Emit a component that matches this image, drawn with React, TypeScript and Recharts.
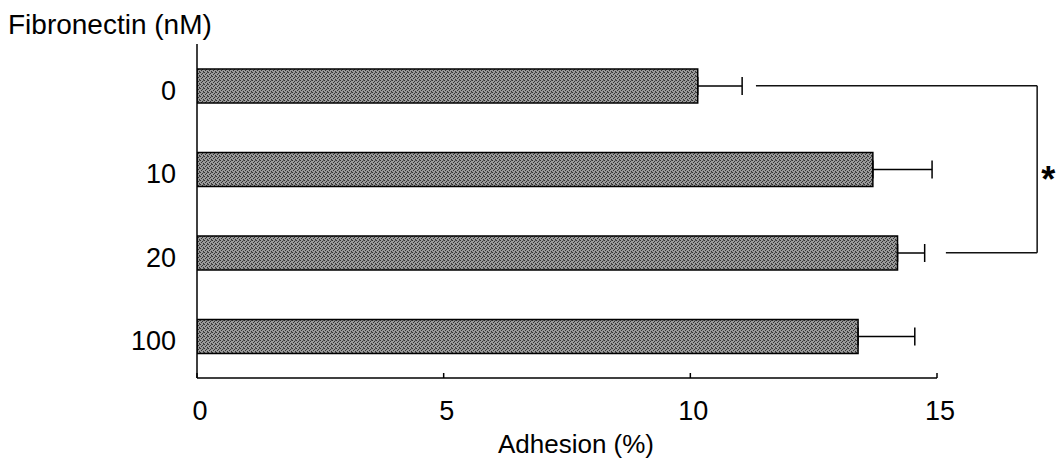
import React from 'react';
import { BarChart, Bar, XAxis, YAxis, ErrorBar, ReferenceLine, Label } from 'recharts';

const doses = ['0', '10', '20', '100'];
const adhesion = [10.15, 13.7, 14.2, 13.4];
const sem = [0.9, 1.2, 0.55, 1.15];
const xTicks = [0, 5, 10, 15];

// significance bracket between 0 nM and 20 nM
const bracketRows = ['0', '20'];
const bracketArmStart = [11.33, 15.18];
const bracketEdge = 17.03;

const data = doses.map((d, i) => ({ dose: d, value: adhesion[i], err: [0, sem[i]] }));

const FONT = '"Liberation Sans", Arial, Helvetica, sans-serif';

const XTick = (props: any) => {
  const { x, y, payload } = props;
  const axisY = y - 23;
  return (
    <g>
      <line x1={x} x2={x} y1={axisY} y2={axisY - 5} stroke="#000" strokeWidth={1.5} />
      <text x={x + 3} y={y} dy="0.71em" textAnchor="middle" fontSize={27} fontFamily={FONT} fill="#000">
        {payload.value}
      </text>
    </g>
  );
};

const YTick = (props: any) => {
  const { x, y, payload } = props;
  return (
    <text x={x} y={y} dy={14} textAnchor="end" fontSize={27} fontFamily={FONT} fill="#000">
      {payload.value}
    </text>
  );
};

const App: React.FC = () => {
  return (
    <div style={{ position: 'absolute', top: 0, left: 0, width: 1064, height: 461, background: '#fff', fontFamily: FONT }}>
      <div style={{ position: 'absolute', left: 8, top: 9, fontSize: 28, color: '#000', whiteSpace: 'nowrap' }}>
        Fibronectin (nM)
      </div>
      <BarChart
        width={1064}
        height={461}
        data={data}
        layout="vertical"
        margin={{ top: 44, right: 127, bottom: 23, left: 0 }}
      >
        <defs>
          <pattern id="stipple" width="4" height="4" patternUnits="userSpaceOnUse">
            <rect width="4" height="4" fill="#9a9a9a" />
            <rect x="0" y="0" width="1" height="1" fill="#333" />
            <rect x="2" y="1" width="1" height="1" fill="#333" />
            <rect x="1" y="2" width="1" height="1" fill="#333" />
            <rect x="3" y="3" width="1" height="1" fill="#333" />
            <rect x="3" y="0" width="1" height="1" fill="#555" />
          </pattern>
        </defs>
        <XAxis
          type="number"
          domain={[0, 15]}
          ticks={xTicks}
          height={60}
          tickSize={0}
          tickMargin={23}
          tick={<XTick />}
          axisLine={{ stroke: '#000', strokeWidth: 1.5 }}
          allowDataOverflow
        >
          <Label value="Adhesion (%)" position="bottom" offset={-3} dx={9} fontSize={26} fill="#000" fontFamily={FONT} />
        </XAxis>
        <YAxis
          type="category"
          dataKey="dose"
          width={197}
          tickSize={0}
          tickMargin={21}
          tickLine={false}
          tick={<YTick />}
          axisLine={{ stroke: '#000', strokeWidth: 1.5 }}
        />
        <Bar dataKey="value" barSize={34} fill="url(#stipple)" stroke="#000" strokeWidth={1.5} isAnimationActive={false}>
          <ErrorBar dataKey="err" direction="x" width={9} stroke="#000" strokeWidth={1.5} isAnimationActive={false} />
        </Bar>
        <ReferenceLine
          segment={[{ x: bracketArmStart[0], y: bracketRows[0] }, { x: bracketEdge, y: bracketRows[0] }]}
          stroke="#111"
          strokeWidth={1.5}
          ifOverflow="visible"
        />
        <ReferenceLine
          segment={[{ x: bracketEdge, y: bracketRows[0] }, { x: bracketEdge, y: bracketRows[1] }]}
          stroke="#111"
          strokeWidth={1.5}
          ifOverflow="visible"
        >
          <Label value="*" position="right" offset={4} dy={10} fontSize={36} fontWeight="bold" fill="#000" fontFamily={FONT} />
        </ReferenceLine>
        <ReferenceLine
          segment={[{ x: bracketArmStart[1], y: bracketRows[1] }, { x: bracketEdge, y: bracketRows[1] }]}
          stroke="#111"
          strokeWidth={1.5}
          ifOverflow="visible"
        />
      </BarChart>
    </div>
  );
};

export default App;
